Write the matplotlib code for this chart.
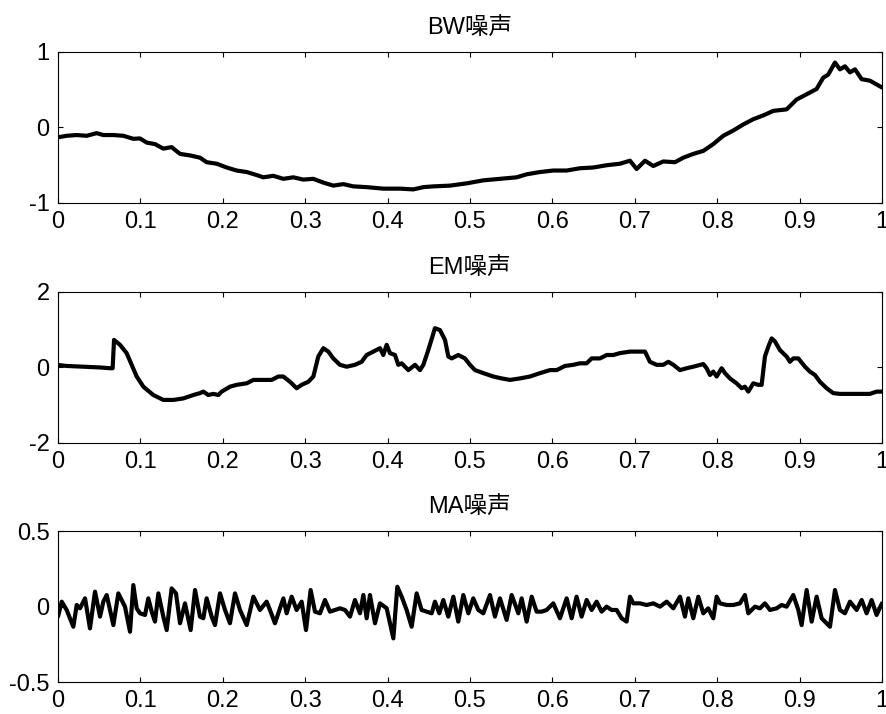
import numpy as np
import matplotlib
matplotlib.use("Agg")
import matplotlib.pyplot as plt

#Fuentes: latina para numeros y CJK para los caracteres chinos
plt.rcParams['font.family'] = ['Liberation Sans', 'Noto Sans CJK SC']
plt.rcParams['axes.unicode_minus'] = False

#Ruido BW (deriva de linea base)
bwX = [0.0, 0.0105, 0.0227, 0.0348, 0.0469, 0.0550, 0.0672, 0.0793, 0.0914, 0.0995,
       0.1076, 0.1177, 0.1278, 0.1379, 0.1481, 0.1602, 0.1723, 0.1804, 0.1926, 0.2047,
       0.2168, 0.2290, 0.2411, 0.2492, 0.2613, 0.2735, 0.2856, 0.2977, 0.3099, 0.3220,
       0.3341, 0.3463, 0.3584, 0.3746, 0.3948, 0.4150, 0.4312, 0.4434, 0.4555, 0.4757,
       0.4960, 0.5162, 0.5364, 0.5566, 0.5688, 0.5850, 0.6011, 0.6173, 0.6335, 0.6497,
       0.6658, 0.6820, 0.6942, 0.7023, 0.7124, 0.7225, 0.7346, 0.7488, 0.7589, 0.7710,
       0.7832, 0.7953, 0.8074, 0.8196, 0.8317, 0.8439, 0.8560, 0.8681, 0.8843, 0.8964,
       0.9086, 0.9207, 0.9288, 0.9348, 0.9430, 0.9490, 0.9551, 0.9612, 0.9673, 0.9754,
       0.9854, 0.9935, 1.0]
bwY = [-0.13, -0.11, -0.10, -0.11, -0.075, -0.10, -0.10, -0.11, -0.15, -0.145,
       -0.20, -0.22, -0.28, -0.26, -0.35, -0.37, -0.40, -0.46, -0.48, -0.53,
       -0.57, -0.59, -0.63, -0.66, -0.64, -0.68, -0.66, -0.69, -0.68, -0.73,
       -0.77, -0.75, -0.78, -0.79, -0.81, -0.81, -0.82, -0.79, -0.78, -0.77,
       -0.74, -0.70, -0.68, -0.66, -0.62, -0.59, -0.57, -0.57, -0.54, -0.53,
       -0.50, -0.48, -0.44, -0.55, -0.44, -0.51, -0.45, -0.46, -0.40, -0.35,
       -0.31, -0.22, -0.11, -0.04, 0.04, 0.11, 0.16, 0.22, 0.24, 0.37,
       0.44, 0.51, 0.66, 0.70, 0.86, 0.77, 0.81, 0.73, 0.77, 0.64,
       0.62, 0.57, 0.53]

#Ruido EM (electrodo)
emX = [0.0, 0.0105, 0.0307, 0.0510, 0.0631, 0.0663, 0.0680, 0.0752, 0.0833, 0.0894,
       0.0955, 0.1036, 0.1157, 0.1278, 0.1400, 0.1521, 0.1642, 0.1723, 0.1764, 0.1824,
       0.1885, 0.1946, 0.1986, 0.2087, 0.2168, 0.2290, 0.2371, 0.2492, 0.2593, 0.2674,
       0.2735, 0.2816, 0.2896, 0.2957, 0.3038, 0.3099, 0.3159, 0.3220, 0.3281, 0.3341,
       0.3422, 0.3503, 0.3604, 0.3685, 0.3746, 0.3827, 0.3908, 0.3948, 0.3989, 0.4029,
       0.4090, 0.4130, 0.4171, 0.4252, 0.4333, 0.4393, 0.4434, 0.4494, 0.4575, 0.4636,
       0.4697, 0.4737, 0.4778, 0.4858, 0.4939, 0.5000, 0.5061, 0.5162, 0.5283, 0.5384,
       0.5485, 0.5607, 0.5728, 0.5850, 0.5971, 0.6052, 0.6153, 0.6254, 0.6335, 0.6416,
       0.6477, 0.6578, 0.6659, 0.6739, 0.6820, 0.6942, 0.7063, 0.7124, 0.7184, 0.7265,
       0.7346, 0.7407, 0.7468, 0.7549, 0.7630, 0.7710, 0.7832, 0.7872, 0.7913, 0.7953,
       0.7994, 0.8054, 0.8095, 0.8155, 0.8236, 0.8297, 0.8337, 0.8378, 0.8439, 0.8499,
       0.8540, 0.8580, 0.8621, 0.8661, 0.8701, 0.8762, 0.8843, 0.8883, 0.8924, 0.8985,
       0.9066, 0.9126, 0.9187, 0.9248, 0.9329, 0.9409, 0.9490, 0.9612, 0.9733, 0.9854,
       0.9935, 1.0]
emY = [0.066, 0.04, 0.02, 0.00, -0.02, -0.02, 0.73, 0.60, 0.38, 0.07,
       -0.24, -0.51, -0.73, -0.86, -0.86, -0.82, -0.73, -0.68, -0.64, -0.73,
       -0.70, -0.73, -0.64, -0.51, -0.46, -0.42, -0.33, -0.33, -0.33, -0.24,
       -0.24, -0.38, -0.55, -0.46, -0.38, -0.24, 0.29, 0.51, 0.42, 0.24,
       0.07, 0.02, 0.07, 0.15, 0.33, 0.42, 0.51, 0.33, 0.60, 0.38,
       0.33, 0.07, 0.11, -0.07, 0.07, -0.07, 0.07, 0.46, 1.04, 0.99,
       0.73, 0.29, 0.24, 0.33, 0.24, 0.07, -0.07, -0.15, -0.24, -0.29,
       -0.33, -0.29, -0.24, -0.15, -0.07, -0.07, 0.04, 0.07, 0.11, 0.11,
       0.24, 0.24, 0.33, 0.33, 0.38, 0.42, 0.42, 0.42, 0.15, 0.07,
       0.07, 0.15, 0.07, -0.07, -0.02, 0.02, 0.09, -0.02, -0.20, -0.11,
       -0.24, -0.02, -0.15, -0.29, -0.42, -0.55, -0.51, -0.64, -0.42, -0.46,
       -0.46, 0.29, 0.55, 0.77, 0.69, 0.46, 0.29, 0.15, 0.24, 0.24,
       0.02, -0.11, -0.20, -0.38, -0.55, -0.68, -0.70, -0.70, -0.70, -0.70,
       -0.64, -0.64]

#Ruido MA (movimiento muscular)
maX = [0.0, 0.0045, 0.0105, 0.0186, 0.0227, 0.0267, 0.0328, 0.0388, 0.0449, 0.0510,
       0.0550, 0.0591, 0.0672, 0.0732, 0.0813, 0.0874, 0.0914, 0.0955, 0.0995, 0.1056,
       0.1096, 0.1137, 0.1177, 0.1218, 0.1278, 0.1319, 0.1379, 0.1432, 0.1481, 0.1541,
       0.1610, 0.1663, 0.1723, 0.1764, 0.1804, 0.1865, 0.1905, 0.1966, 0.2027, 0.2087,
       0.2148, 0.2209, 0.2290, 0.2371, 0.2451, 0.2532, 0.2573, 0.2633, 0.2735, 0.2775,
       0.2836, 0.2896, 0.2957, 0.3010, 0.3066, 0.3119, 0.3180, 0.3240, 0.3301, 0.3362,
       0.3422, 0.3483, 0.3544, 0.3604, 0.3665, 0.3706, 0.3746, 0.3786, 0.3847, 0.3908,
       0.3989, 0.4070, 0.4118, 0.4171, 0.4231, 0.4292, 0.4353, 0.4413, 0.4474, 0.4535,
       0.4575, 0.4628, 0.4676, 0.4737, 0.4798, 0.4858, 0.4919, 0.4980, 0.5040, 0.5101,
       0.5162, 0.5243, 0.5303, 0.5364, 0.5445, 0.5506, 0.5587, 0.5627, 0.5688, 0.5749,
       0.5809, 0.5870, 0.5930, 0.6011, 0.6092, 0.6173, 0.6234, 0.6294, 0.6355, 0.6416,
       0.6477, 0.6537, 0.6598, 0.6659, 0.6719, 0.6780, 0.6841, 0.6901, 0.6942, 0.6982,
       0.7063, 0.7144, 0.7225, 0.7306, 0.7387, 0.7468, 0.7549, 0.7609, 0.7650, 0.7710,
       0.7771, 0.7832, 0.7892, 0.7953, 0.7994, 0.8034, 0.8115, 0.8196, 0.8277, 0.8337,
       0.8378, 0.8459, 0.8519, 0.8580, 0.8641, 0.8722, 0.8782, 0.8843, 0.8924, 0.8985,
       0.9025, 0.9086, 0.9147, 0.9207, 0.9268, 0.9369, 0.9430, 0.9490, 0.9551, 0.9612,
       0.9693, 0.9754, 0.9814, 0.9875, 0.9935, 1.0]
maY = [-0.067, 0.032, -0.023, -0.134, 0.010, -0.012, 0.054, -0.145, 0.098, -0.067,
       0.032, 0.076, -0.123, 0.087, -0.001, -0.167, 0.142, -0.012, -0.045, -0.056,
       0.054, -0.034, -0.100, 0.087, -0.067, -0.156, 0.120, 0.087, -0.111, 0.021,
       -0.156, 0.109, -0.067, -0.078, 0.054, -0.067, -0.123, 0.087, -0.023, -0.111,
       0.087, -0.023, -0.123, 0.065, -0.023, 0.032, -0.023, -0.111, 0.054, -0.045,
       0.065, -0.023, 0.032, -0.156, 0.109, -0.034, -0.045, 0.043, -0.034, -0.023,
       -0.012, -0.023, -0.067, 0.043, -0.045, 0.076, -0.078, 0.076, -0.111, 0.021,
       -0.012, -0.211, 0.131, 0.065, -0.023, -0.134, 0.087, -0.023, -0.034, -0.045,
       0.032, -0.045, 0.043, -0.067, 0.065, -0.100, 0.076, -0.045, 0.054, -0.023,
       -0.045, 0.076, -0.067, 0.054, -0.089, 0.076, -0.045, 0.054, -0.100, 0.065,
       -0.034, -0.034, -0.023, 0.021, -0.078, 0.054, -0.078, 0.065, -0.067, 0.043,
       -0.023, 0.032, -0.034, -0.001, -0.023, -0.023, -0.078, -0.100, 0.065, 0.021,
       0.021, 0.010, 0.021, -0.001, 0.032, -0.012, 0.065, -0.067, 0.054, -0.078,
       0.065, -0.045, -0.012, -0.078, 0.065, 0.021, 0.010, 0.010, 0.021, 0.076,
       -0.045, -0.001, -0.012, 0.021, -0.023, -0.012, 0.010, -0.001, 0.076, -0.023,
       -0.123, 0.109, -0.100, 0.065, -0.078, -0.134, 0.109, -0.023, -0.045, 0.032,
       -0.023, 0.043, -0.045, 0.043, -0.056, 0.021]

#Titulos y limites de cada grafica
titulos = ["BW噪声", "EM噪声", "MA噪声"]
yTicksList = [[-1, 0, 1], [-2, 0, 2], [-0.5, 0, 0.5]]
xTicks = [0, 0.1, 0.2, 0.3, 0.4, 0.5, 0.6, 0.7, 0.8, 0.9, 1]
xTickLabels = ["0", "0.1", "0.2", "0.3", "0.4", "0.5", "0.6", "0.7", "0.8", "0.9", "1"]

def plotNoise(ax, x, y, titulo, yTicks):
    #Grafica la senal de ruido
    ax.plot(x, y, color="black", linewidth=3.0,
            solid_joinstyle="round", solid_capstyle="round")
    ax.set_xlim(0, 1)
    ax.set_ylim(yTicks[0], yTicks[-1])
    ax.set_xticks(xTicks)
    ax.set_xticklabels(xTickLabels)
    ax.set_yticks(yTicks)
    ax.set_yticklabels([f"{t:g}" for t in yTicks])
    ax.set_title(titulo, fontsize=17, pad=13)

    #Estilo tipo MATLAB: marcas hacia adentro en los cuatro lados
    ax.tick_params(direction="in", top=True, right=True, length=3.5, width=0.8,
                   labelsize=17, pad=6)
    for spine in ax.spines.values():
        spine.set_linewidth(0.8)

fig = plt.figure(figsize=(8.87, 7.14), dpi=100)

#Posicion de cada eje [izq, abajo, ancho, alto]
posiciones = [[0.0654, 0.7157, 0.9289, 0.2115],
              [0.0654, 0.3796, 0.9289, 0.2115],
              [0.0654, 0.0448, 0.9289, 0.2115]]

datos = [(bwX, bwY), (emX, emY), (maX, maY)]
for i in range(0, len(datos)):
    ax = fig.add_axes(posiciones[i])
    plotNoise(ax, datos[i][0], datos[i][1], titulos[i], yTicksList[i])

fig.savefig("out.png", dpi=100)
